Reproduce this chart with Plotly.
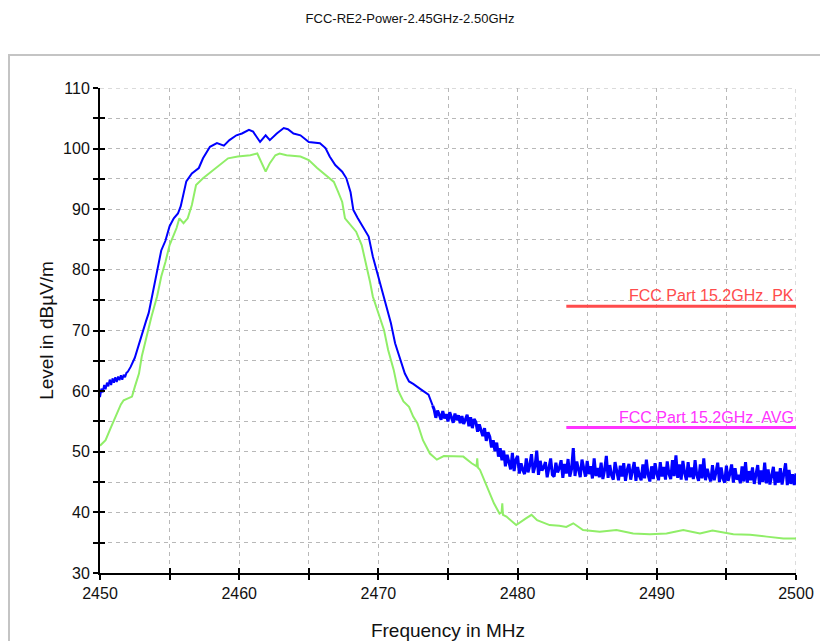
import plotly.graph_objects as go

TITLE = "FCC-RE2-Power-2.45GHz-2.50GHz"

# Blue (peak) trace, smooth part
blue_freq_a = [2450.0, 2450.1, 2450.2, 2450.3, 2450.4, 2450.5, 2450.6, 2450.7, 2450.8, 2450.9,
               2451.0, 2451.1, 2451.2, 2451.3, 2451.4, 2451.5, 2451.6, 2451.7, 2451.8, 2451.9,
               2452.0, 2452.2, 2452.5, 2452.8, 2453.0, 2453.3, 2453.5, 2453.8, 2454.0, 2454.2,
               2454.4, 2454.7, 2455.0, 2455.3, 2455.6, 2455.8, 2456.0, 2456.2, 2456.6, 2457.1,
               2457.4, 2457.9, 2458.4, 2458.9, 2459.3, 2459.8, 2460.2, 2460.7, 2461.0, 2461.3,
               2461.5, 2461.9, 2462.2, 2462.7, 2463.2, 2463.5, 2463.9, 2464.4, 2465.0, 2465.8,
               2466.2, 2466.5, 2466.9, 2467.4, 2467.7, 2468.0, 2468.2, 2468.5, 2468.9, 2469.3,
               2469.6, 2470.0, 2470.4, 2470.9, 2471.2, 2471.6, 2471.9, 2472.2, 2472.5, 2473.1,
               2473.6, 2473.9]
blue_level_a = [59.0, 60.4, 59.8, 61.0, 60.3, 61.4, 60.8, 61.9, 61.0, 62.1,
                61.4, 62.3, 61.5, 62.4, 61.8, 62.6, 61.9, 62.7, 62.3, 63.0,
                63.2, 64.0, 65.5, 67.8, 69.6, 71.5, 72.9, 76.5, 79.0, 81.2,
                83.2, 84.8, 87.2, 88.5, 89.3, 90.5, 92.8, 94.6, 95.9, 96.8,
                98.4, 100.3, 100.9, 100.5, 101.4, 102.2, 102.5, 103.1, 102.8, 101.8,
                101.1, 102.2, 101.4, 102.5, 103.4, 103.2, 102.5, 102.2, 101.1, 100.9,
                100.1, 98.7, 97.3, 96.2, 95.1, 92.8, 89.9, 88.6, 87.1, 85.5,
                82.2, 78.9, 75.6, 71.2, 67.9, 64.8, 62.9, 61.6, 61.2, 60.2,
                59.4, 57.6]

# Blue trace, noisy part sampled every 0.125 MHz from 2474.0 to 2500.0
blue_noisy_start = 2474.0
blue_noisy_step = 0.125
blue_level_b = [
    57.0, 55.6, 56.8, 56.1, 55.3, 56.7, 55.5, 56.2,
    55.0, 56.5, 55.7, 54.8, 56.3, 55.2, 56.0, 54.7,
    55.9, 54.6, 55.3, 56.1, 54.2, 55.7, 53.9, 55.4,
    54.9, 53.3, 54.5, 53.6, 52.6, 53.9, 51.8, 53.2,
    52.5, 50.7, 51.9, 50.1, 51.5, 49.2, 50.6, 48.6,
    50.2, 47.6, 49.5, 48.3, 47.1, 49.8, 46.8, 48.7,
    49.3, 46.4, 48.1, 47.0, 46.3, 48.9, 46.6, 47.8,
    49.6, 46.5, 47.6, 50.2, 46.2, 48.5, 46.9, 47.4,
    48.3, 45.8, 47.5, 48.9, 46.2, 45.9, 48.2, 46.6,
    47.3, 48.6, 45.7, 48.0, 46.4, 48.8, 45.9, 47.1,
    50.6, 46.0, 48.4, 46.8, 45.8, 48.7, 47.2, 45.9,
    48.5, 46.3, 47.6, 45.6, 48.9, 46.0, 47.3, 45.8,
    48.2, 45.5, 47.0, 49.3, 45.7, 47.8, 46.1, 45.4,
    48.3, 46.5, 45.3, 47.7, 45.9, 48.1, 45.2, 47.0,
    48.0, 45.4, 46.6, 48.3, 45.2, 47.5, 46.0, 45.3,
    47.9, 45.6, 48.7, 46.2, 45.1, 47.6, 45.5, 48.1,
    46.4, 45.3, 48.3, 45.9, 47.5, 45.4, 48.4, 46.3,
    45.5, 48.6, 46.0, 49.4, 45.7, 47.9, 45.4, 48.5,
    46.5, 45.3, 48.3, 45.8, 47.4, 45.5, 48.6, 46.1,
    45.2, 47.9, 45.6, 48.9, 45.3, 47.2, 46.0, 45.1,
    47.8, 45.3, 46.6, 48.2, 45.0, 47.4, 45.6, 44.9,
    47.7, 45.2, 46.4, 47.9, 44.9, 47.3, 45.4, 46.2,
    44.8, 47.6, 45.1, 48.3, 44.9, 46.8, 45.3, 47.4,
    44.7, 46.5, 47.8, 44.6, 46.9, 45.0, 48.2, 44.8,
    47.1, 44.6, 46.2, 47.5, 44.5, 46.7, 44.9, 47.3,
    44.6, 46.8, 48.1, 44.5, 47.0, 44.7, 46.3, 44.5,
    46.4]

# Green (average) trace
green_freq = [2450.0, 2450.4, 2450.8, 2451.2, 2451.5, 2451.7, 2452.0, 2452.3, 2452.5, 2452.8,
              2453.0, 2453.4, 2453.7, 2454.1, 2454.4, 2454.7, 2455.0, 2455.5, 2455.7, 2456.0,
              2456.3, 2456.6, 2456.9, 2457.4, 2458.0, 2458.6, 2459.2, 2459.9, 2460.8, 2461.3,
              2461.6, 2461.9, 2462.2, 2462.6, 2462.9, 2463.4, 2464.4, 2465.0, 2465.6, 2466.2,
              2466.8, 2467.1, 2467.4, 2467.6, 2468.0, 2468.4, 2468.8, 2469.1, 2469.4, 2469.6,
              2470.0, 2470.4, 2470.7, 2471.1, 2471.4, 2471.8, 2472.2, 2472.5, 2472.8, 2473.2,
              2473.7, 2474.2, 2474.7, 2475.4, 2476.1, 2476.7, 2477.05, 2477.1, 2477.15, 2477.3,
              2477.8, 2478.3, 2478.7, 2478.85, 2478.9, 2478.95, 2479.2, 2479.9, 2480.6, 2481.0,
              2481.4, 2482.3, 2483.0, 2483.5, 2484.0, 2484.7, 2485.9, 2487.1, 2488.3, 2489.5,
              2490.7, 2491.9, 2493.1, 2494.0, 2495.5, 2496.7, 2497.9, 2499.1, 2500.0]
green_level = [51.0, 51.9, 54.1, 56.3, 57.8, 58.5, 58.8, 59.1, 60.7, 62.9,
               65.7, 69.5, 72.3, 75.6, 78.9, 81.3, 84.1, 86.9, 88.5, 87.7,
               88.5, 90.7, 94.0, 95.1, 96.2, 97.3, 98.4, 98.7, 98.9, 99.2,
               97.8, 96.2, 97.6, 98.9, 99.2, 98.9, 98.7, 98.1, 96.8, 95.6,
               94.5, 92.9, 91.2, 88.5, 87.4, 86.3, 84.1, 81.3, 78.0, 75.6,
               72.8, 70.1, 66.8, 63.5, 60.2, 58.3, 57.4, 55.8, 54.7, 51.9,
               49.7, 48.7, 49.3, 49.3, 49.2, 48.1, 47.6, 48.9, 47.4, 47.0,
               44.2, 41.5, 39.8, 40.0, 41.5, 39.6, 39.3, 37.9, 39.0, 39.6,
               38.7, 37.9, 37.8, 37.6, 38.2, 37.1, 36.8, 37.1, 36.5, 36.4,
               36.5, 37.1, 36.5, 37.0, 36.4, 36.3, 36.0, 35.7, 35.7]

# Limit lines
limit_freq = [2483.5, 2500.0]
pk_limit = [74.0, 74.0]
avg_limit = [54.0, 54.0]
pk_label = "FCC Part 15.2GHz  PK"
avg_label = "FCC Part 15.2GHz  AVG"

x_range = [2450, 2500]
y_range = [30, 110]
x_ticks = [2450, 2455, 2460, 2465, 2470, 2475, 2480, 2485, 2490, 2495, 2500]
y_ticks = [30, 35, 40, 45, 50, 55, 60, 65, 70, 75, 80, 85, 90, 95, 100, 105, 110]

blue_freq_b = [blue_noisy_start + i * blue_noisy_step for i in range(len(blue_level_b))]

FONT = "Liberation Sans, Arial, sans-serif"
BLUE = "#0000ff"
GRID = "#b8b8b8"
fig = go.Figure()

fig.add_trace(go.Scatter(x=green_freq, y=green_level, mode="lines",
                         line=dict(color="#90ee68", width=2), hoverinfo="skip"))
fig.add_trace(go.Scatter(x=blue_freq_a, y=blue_level_a, mode="lines",
                         line=dict(color=BLUE, width=2), hoverinfo="skip"))
fig.add_trace(go.Scatter(x=[blue_freq_a[-1]] + blue_freq_b,
                         y=[blue_level_a[-1]] + blue_level_b, mode="lines",
                         line=dict(color=BLUE, width=3), hoverinfo="skip"))
fig.add_trace(go.Scatter(x=limit_freq, y=pk_limit, mode="lines",
                         line=dict(color="#ff4c4c", width=3), hoverinfo="skip"))
fig.add_trace(go.Scatter(x=limit_freq, y=avg_limit, mode="lines",
                         line=dict(color="#ff33ff", width=3), hoverinfo="skip"))
# invisible trace to anchor the overlay axes (inner halves of the cross ticks)
fig.add_trace(go.Scatter(x=x_range, y=y_range, mode="lines", xaxis="x2", yaxis="y2",
                         line=dict(width=0), opacity=0, hoverinfo="skip"))

fig.add_annotation(x=limit_freq[1], y=pk_limit[1], text=pk_label, showarrow=False,
                   xanchor="right", yanchor="bottom", yshift=0,
                   font=dict(family=FONT, size=16, color="#ff4c4c"))
fig.add_annotation(x=limit_freq[1], y=avg_limit[1], text=avg_label, showarrow=False,
                   xanchor="right", yanchor="bottom", yshift=0,
                   font=dict(family=FONT, size=16, color="#ff33ff"))

tick_text_x = [str(v) if v % 10 == 0 else "" for v in x_ticks]
tick_text_y = [str(v) if v % 10 == 0 else "" for v in y_ticks]

grid = dict(showgrid=True, gridcolor=GRID, gridwidth=1, griddash="4px,4px")

fig.update_layout(
    width=820, height=641,
    margin=dict(l=100, r=24, t=88, b=68, autoexpand=False),
    paper_bgcolor="white", plot_bgcolor="white",
    showlegend=False,
    title=dict(text=TITLE, x=0.5, xref="container", xanchor="center",
               y=1 - 18 / 641, yref="container", yanchor="middle",
               font=dict(family=FONT, size=13, color="#111111")),
    xaxis=dict(range=x_range, tickmode="array", tickvals=x_ticks, ticktext=tick_text_x,
               ticks="outside", ticklen=5, tickwidth=1.5, tickcolor="black",
               showline=True, linecolor="black", linewidth=2, automargin=False,
               tickfont=dict(family=FONT, size=16, color="#111111"),
               title=dict(text="Frequency in MHz", standoff=24,
                          font=dict(family=FONT, size=19, color="#111111")),
               zeroline=False, **grid),
    yaxis=dict(range=y_range, tickmode="array", tickvals=y_ticks, ticktext=tick_text_y,
               ticks="outside", ticklen=5, tickwidth=1.5, tickcolor="black",
               showline=True, linecolor="black", linewidth=2, automargin=False,
               tickfont=dict(family=FONT, size=16, color="#111111"),
               title=dict(text="Level in dBµV/m", standoff=4,
                          font=dict(family=FONT, size=19, color="#111111")),
               zeroline=False, **grid),
    xaxis2=dict(range=x_range, overlaying="x", anchor="y2", side="bottom",
                tickmode="array", tickvals=x_ticks, showticklabels=False,
                ticks="inside", ticklen=5, tickwidth=1.5, tickcolor="black",
                showgrid=False, zeroline=False, showline=False, automargin=False),
    yaxis2=dict(range=y_range, overlaying="y", anchor="x2", side="left",
                tickmode="array", tickvals=y_ticks, showticklabels=False,
                ticks="inside", ticklen=5, tickwidth=1.5, tickcolor="black",
                showgrid=False, zeroline=False, showline=False, automargin=False),
)

# dashed grid lines on the top and right edges of the plot area
fig.add_shape(type="line", xref="paper", yref="y", x0=0, x1=1, y0=y_range[1], y1=y_range[1],
              line=dict(color=GRID, width=1, dash="4px,4px"), layer="below")
fig.add_shape(type="line", xref="x", yref="paper", x0=x_range[1], x1=x_range[1], y0=0, y1=1,
              line=dict(color=GRID, width=1, dash="4px,4px"), layer="below")

# outer frame of the chart panel
fig.add_shape(type="rect", xref="paper", yref="paper",
              x0=(9 - 100) / 696, x1=1.2, y0=-0.3, y1=(573 - 55) / 485,
              line=dict(color="#c4c4c4", width=2), fillcolor="rgba(0,0,0,0)", layer="below")

fig.write_html("out.html", config={"displayModeBar": False},
               post_script="document.body.style.margin='0';document.body.style.padding='0';")
